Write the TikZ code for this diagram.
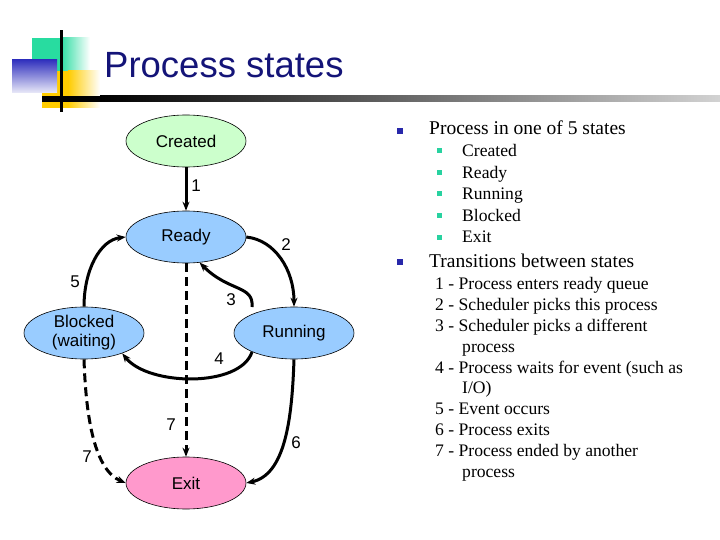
\documentclass[tikz,border=0pt]{standalone}
\usepackage{fontspec}
\setmainfont{Liberation Serif}
\newfontfamily\arialf{Liberation Sans}
\usetikzlibrary{arrows.meta,shapes.geometric}
\definecolor{titleblue}{RGB}{20,20,120}
\definecolor{crfill}{RGB}{204,255,204}
\definecolor{stfill}{RGB}{153,204,255}
\definecolor{exfill}{RGB}{255,153,204}
\definecolor{tealc}{RGB}{40,220,160}
\definecolor{goldc}{RGB}{255,204,0}
\definecolor{bluec}{RGB}{50,50,190}
\definecolor{bul1}{RGB}{40,40,170}
\definecolor{bul2}{RGB}{40,210,160}
\tikzset{
  state/.style={ellipse, draw=black, line width=0.6pt, minimum width=120pt, minimum height=52pt, inner sep=0pt, font=\arialf\fontsize{17}{19}\selectfont, align=center},
  tr/.style={line width=3pt, -{Stealth[length=9pt,width=7pt]}},
  trd/.style={tr, dash pattern=on 9pt off 5pt},
  lab/.style={font=\arialf\fontsize{17}{19}\selectfont, inner sep=0pt},
  txt/.style={anchor=base west, inner sep=0pt, font=\fontsize{17.6}{20}\selectfont},
  txtb/.style={anchor=base west, inner sep=0pt, font=\fontsize{19.5}{22}\selectfont},
  bulA/.style={fill=bul1, minimum size=6pt, inner sep=0pt},
  bulB/.style={fill=bul2, minimum size=5pt, inner sep=0pt}
}
\begin{document}
\begin{tikzpicture}[x=1pt,y=-1pt]
\useasboundingbox (0,0) rectangle (720,540);
% logo
\fill[tealc] (32,38) rectangle (60,71);
\shade[left color=tealc, right color=white] (60,38) rectangle (90,71);
\fill[goldc] (42,71) rectangle (68,108);
\shade[left color=goldc, right color=white] (68,71) rectangle (100,108);
\shade[shading angle=-45, top color=bluec, bottom color=white!90!bluec] (12,60) rectangle (57,93);
\fill[black] (42,96) rectangle (100,102);
\shade[left color=black, right color=gray!35] (100,96) rectangle (720,102);
\fill[black] (60,30) rectangle (63,112);
\node[anchor=base west, inner sep=0pt, text=titleblue, font=\arialf\fontsize{36.5}{40}\selectfont] (title) at (104,78) {Process states};
% states
\node[state, fill=crfill] (created) at (186,141) {Created};
\node[state, fill=stfill] (ready) at (186,237) {Ready};
\node[state, fill=stfill] (blocked) at (84,333) {Blocked\\(waiting)};
\node[state, fill=stfill] (running) at (294,333) {Running};
\node[state, fill=exfill] (exit) at (186,483) {Exit};
\coordinate (r3) at (252,307);
\coordinate (r4) at (252,352);
% transitions
\draw[tr] (created) -- (ready);
\draw[tr] (ready.east) .. controls (275,240) and (294,270) .. (running.north);
\draw[tr] (r3) .. controls (254,285) and (229,292) .. (ready.-62);
\draw[tr] (r4) .. controls (240,388) and (148,386) .. (blocked.-28);
\draw[tr] (blocked.north) .. controls (84,270) and (100,240) .. (ready.west);
\draw[tr] (running.south) .. controls (292,420) and (285,475) .. (exit.east);
\draw[trd] (ready) -- (exit);
\draw[trd] (blocked.south) .. controls (86,420) and (95,470) .. (exit.west);
% labels
\node[lab] (l1) at (196,186) {1};
\node[lab] (l2) at (286,245) {2};
\node[lab] (l3) at (231,300) {3};
\node[lab] (l4) at (219,359) {4};
\node[lab] (l5) at (75,282) {5};
\node[lab] (l6) at (296,443) {6};
\node[lab] (l7a) at (171,425) {7};
\node[lab] (l7b) at (87,457) {7};
% right text
\node[bulA] (b1) at (400,131) {};
\node[txtb] (t1) at (429,135) {Process in one of 5 states};
\foreach \t [count=\i] in {Created,Ready,Running,Blocked,Exit}{
  \node[bulB] (sb\i) at (439,{151+21.5*(\i-1)}) {};
  \node[txt] (st\i) at (462,{157+21.5*(\i-1)}) {\t};
}
\node[bulA] (b2) at (400,262) {};
\node[txtb] (t2) at (429,267) {Transitions between states};
\node[txt] (n1) at (435,289) {1 - Process enters ready queue};
\node[txt] (n2) at (435,310.5) {2 - Scheduler picks this process};
\node[txt] (n3) at (435,331.5) {3 - Scheduler picks a different};
\node[txt] (n3b) at (462,352) {process};
\node[txt] (n4) at (435,373) {4 - Process waits for event (such as};
\node[txt] (n4b) at (462,393) {I/O)};
\node[txt] (n5) at (435,414) {5 - Event occurs};
\node[txt] (n6) at (435,435.5) {6 - Process exits};
\node[txt] (n7) at (435,456.5) {7 - Process ended by another};
\node[txt] (n7b) at (462,477) {process};
\end{tikzpicture}
\end{document}
